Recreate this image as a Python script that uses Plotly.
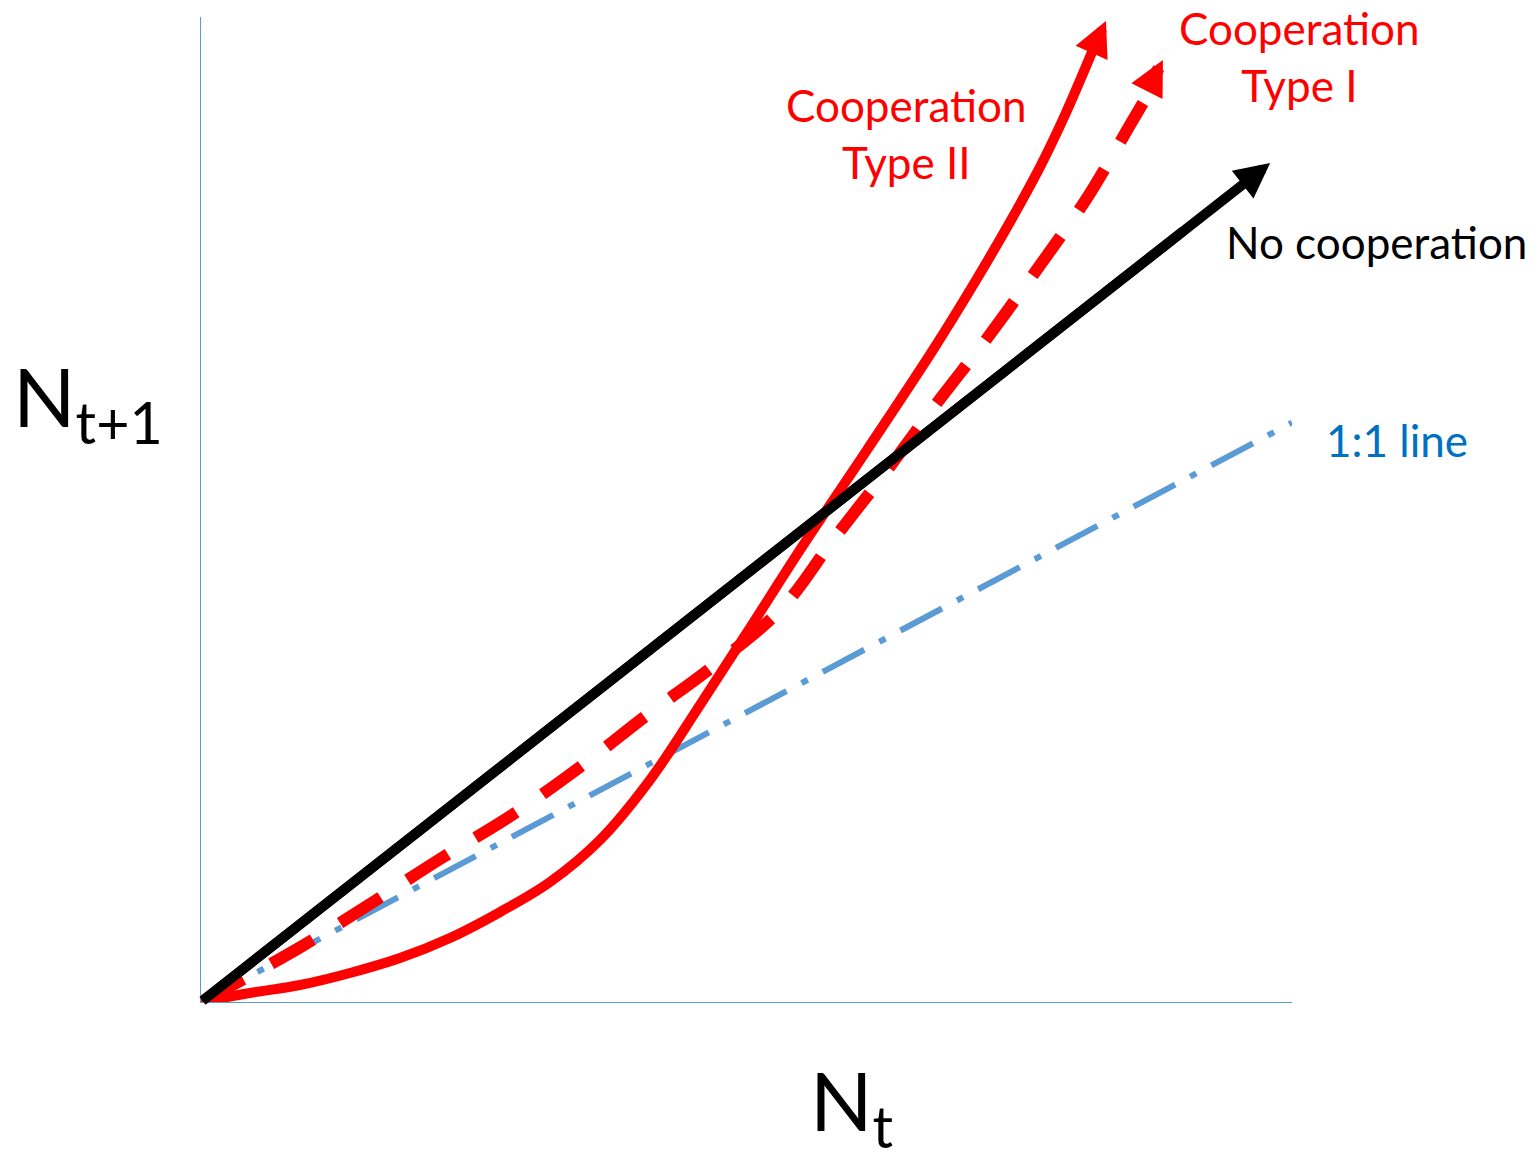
import plotly.graph_objects as go

# ---- Data (conceptual units: N_t on x, N_{t+1} on y) ----
one_to_one_x = [0, 10]
one_to_one_y = [0, 10]

no_coop_x = [0, 9.0, 9.80]
no_coop_y = [0, 13.30, 14.48]

type1_x = [0, 0.898, 1.549, 2.191, 2.851, 3.474, 4.088, 4.684, 5.325, 5.793,
           6.270, 6.746, 7.214, 7.672, 8.121, 8.515, 8.634, 8.676, 8.817]
type1_y = [0, 0.932, 1.691, 2.468, 3.227, 4.056, 4.953, 5.782, 6.800, 7.974,
           9.130, 10.338, 11.477, 12.668, 13.876, 15.136, 15.516, 15.740, 16.258]

type2_x = [0, 0.449, 0.907, 1.366, 1.824, 2.282, 2.741, 3.199, 3.657, 4.115,
           4.574, 5.032, 5.490, 6.104, 6.709, 7.094, 7.415, 7.690, 7.919, 8.167, 8.295]
type2_y = [0, 0.155, 0.293, 0.501, 0.759, 1.105, 1.553, 2.071, 2.796, 3.832,
           5.126, 6.455, 7.801, 9.527, 11.253, 12.427, 13.462, 14.411, 15.309, 16.396, 16.931]

RED = "#FF0000"
BLACK = "#000000"
LINE_BLUE = "#5B9BD5"
TEXT_BLUE = "#0070C0"
FONT = "Lato"

fig = go.Figure()

# 1:1 line (dash-dot)
fig.add_trace(go.Scatter(x=one_to_one_x, y=one_to_one_y, mode="lines",
                         line=dict(color=LINE_BLUE, width=6, dash="47px,17px,7px,17px"),
                         hoverinfo="skip"))

# No cooperation (straight black)
fig.add_trace(go.Scatter(x=no_coop_x[:-1], y=no_coop_y[:-1], mode="lines",
                         line=dict(color=BLACK, width=10), hoverinfo="skip"))

# Cooperation Type I (dashed red)
fig.add_trace(go.Scatter(x=type1_x[:-2], y=type1_y[:-2], mode="lines",
                         line=dict(color=RED, width=12, dash="48px,32px", shape="spline", smoothing=1.0),
                         hoverinfo="skip"))

# Cooperation Type II (solid red)
fig.add_trace(go.Scatter(x=type2_x[:-1], y=type2_y[:-1], mode="lines",
                         line=dict(color=RED, width=10, shape="spline", smoothing=1.0),
                         hoverinfo="skip"))


def arrow_head(xs, ys, color, width, tail=-2):
    fig.add_annotation(x=xs[-1], y=ys[-1], ax=xs[tail], ay=ys[tail],
                       xref="x", yref="y", axref="x", ayref="y",
                       text="", showarrow=True, arrowhead=2,
                       arrowsize=7.0 / width, arrowwidth=width, arrowcolor=color)


arrow_head(no_coop_x, no_coop_y, BLACK, 10, tail=0)
arrow_head(type1_x, type1_y, RED, 12)
arrow_head(type2_x, type2_y, RED, 10)

# Labels (paper coordinates)
def label(text, x, y, color, size, xanchor="center"):
    fig.add_annotation(x=x, y=y, xref="paper", yref="paper", text=text,
                       showarrow=False, xanchor=xanchor, yanchor="middle",
                       font=dict(family=FONT, size=size, color=color))


label("Cooperation<br>Type II", 0.647, 0.882, RED, 44)
label("Cooperation<br>Type I", 1.0073, 0.9604, RED, 44)
label("No cooperation", 0.9377, 0.7715, BLACK, 44, "left")
label("1:1 line", 1.0293, 0.5706, TEXT_BLUE, 44, "left")
label("N<sub>t+1</sub>", -0.1742, 0.610, BLACK, 82, "left")
label("N<sub>t</sub>", 0.5564, -0.1046, BLACK, 82, "left")

axis_common = dict(showgrid=False, zeroline=False, showticklabels=False, ticks="",
                   showline=True, linecolor=LINE_BLUE, linewidth=1.3,
                   layer="below traces", fixedrange=True)

# page has an 8px body margin: figure is offset by (8, 8)
fig.update_layout(
    width=1532, height=1153, autosize=False,
    margin=dict(l=193, r=248, t=9, b=159, pad=0),
    paper_bgcolor="white", plot_bgcolor="white",
    showlegend=False,
    xaxis=dict(range=[0, 10], **axis_common),
    yaxis=dict(range=[0, 17], **axis_common),
)

fig.write_html("out.html")
